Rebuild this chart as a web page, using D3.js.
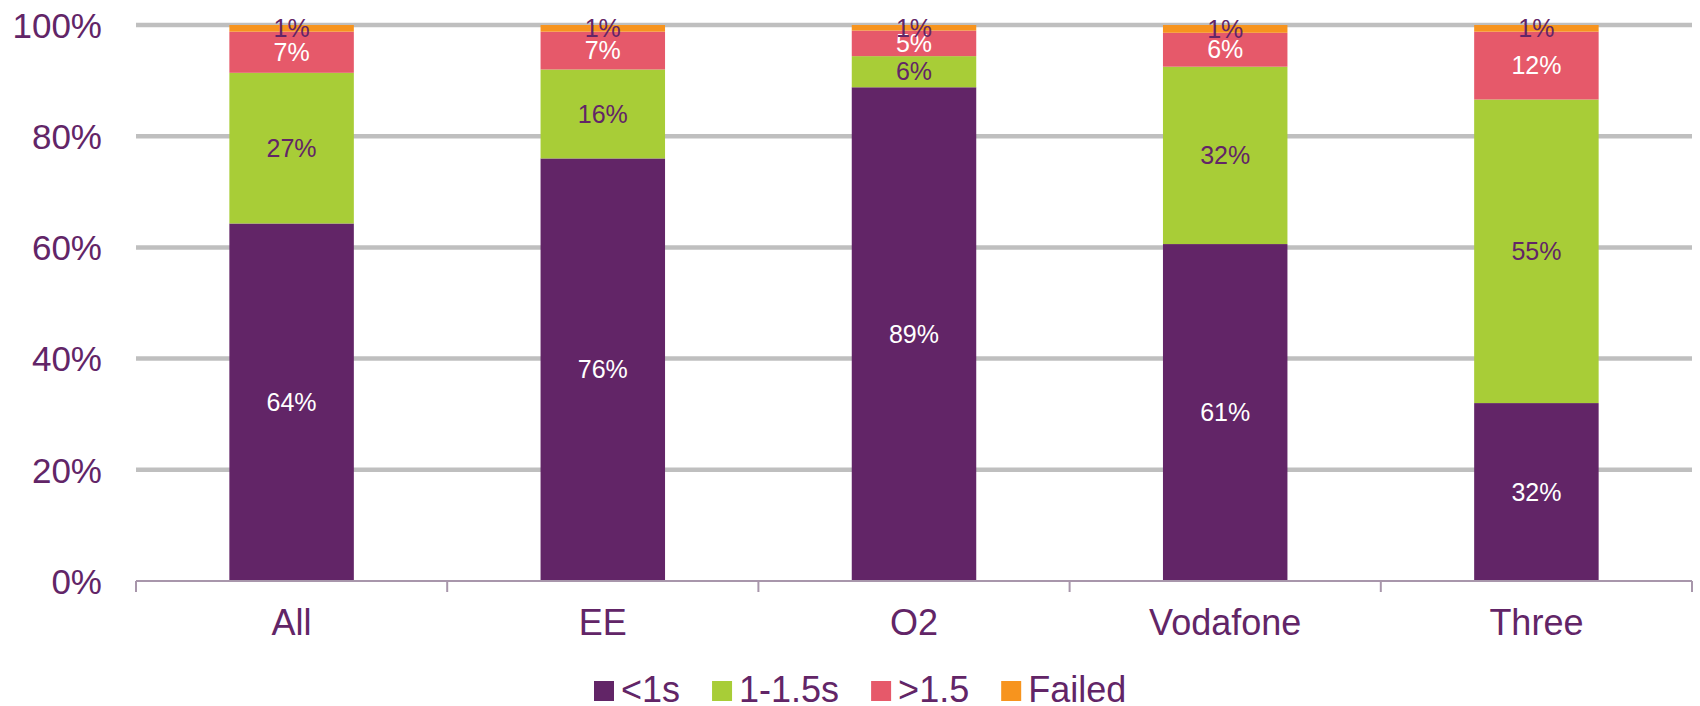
<!DOCTYPE html>
<html>
<head>
<meta charset="utf-8">
<script src="https://cdn.jsdelivr.net/npm/d3@7"></script>
<style>
  body { margin: 0; background: #fff; }
  svg text { font-family: "Liberation Sans", Arial, sans-serif; }
</style>
</head>
<body>
<div id="container"></div>
<script>
// data
const operators = ["All", "EE", "O2", "Vodafone", "Three"];
const bands = ["<1s", "1-1.5s", ">1.5", "Failed"];
const under1s = [64.3, 76.0, 88.8, 60.6, 32.0];
const oneTo15s = [27.1, 16.0, 5.6, 31.9, 54.6];
const over15 = [7.4, 6.8, 4.6, 6.1, 12.2];
const failed = [1.2, 1.2, 1.0, 1.4, 1.2];
const yTicks = [0, 20, 40, 60, 80, 100];

const colors = ["#622567", "#a8cd37", "#e6596a", "#f7941e"];
const labelColors = ["#ffffff", "#622567", "#ffffff", "#622567"];
const purple = "#622567";

const w = 1700, h = 706;
const m = { top: 25, right: 8, bottom: 125, left: 136 };

// rows for the stack
const rows = operators.map((op, i) => ({
  op: op,
  "<1s": under1s[i],
  "1-1.5s": oneTo15s[i],
  ">1.5": over15[i],
  "Failed": failed[i]
}));
const series = d3.stack().keys(bands)(rows);

const svg = d3.select("#container")
  .append("svg")
  .attr("width", w)
  .attr("height", h);

const x = d3.scaleBand()
  .domain(operators)
  .range([m.left, w - m.right])
  .paddingInner(0.6)
  .paddingOuter(0.3);

const y = d3.scaleLinear()
  .domain([0, 100])
  .range([h - m.bottom, m.top]);

// gridlines
svg.append("g")
  .selectAll("line")
  .data(yTicks.filter(d => d > 0))
  .enter()
  .append("line")
  .attr("x1", m.left)
  .attr("x2", w - m.right)
  .attr("y1", d => y(d))
  .attr("y2", d => y(d))
  .attr("stroke", "#bfbfbf")
  .attr("stroke-width", 4.5);

// y axis labels
const yAxis = svg.append("g")
  .attr("transform", `translate(${m.left},0)`)
  .call(d3.axisLeft(y).tickValues(yTicks).tickSize(0).tickPadding(34).tickFormat(d => d + "%"));
yAxis.select(".domain").remove();
yAxis.selectAll("text")
  .attr("fill", purple)
  .style("font-size", "35px")
  .attr("dy", "0.35em");

// bars
svg.append("g")
  .selectAll("g")
  .data(series)
  .enter()
  .append("g")
  .attr("fill", (d, i) => colors[i])
  .selectAll("rect")
  .data(d => d)
  .enter()
  .append("rect")
  .attr("x", d => x(d.data.op))
  .attr("y", d => y(d[1]))
  .attr("width", x.bandwidth())
  .attr("height", d => y(d[0]) - y(d[1]));

// value labels
series.forEach((s, si) => {
  svg.append("g")
    .selectAll("text")
    .data(s)
    .enter()
    .append("text")
    .attr("x", d => x(d.data.op) + x.bandwidth() / 2)
    .attr("y", d => (y(d[0]) + y(d[1])) / 2)
    .attr("dy", "0.35em")
    .attr("text-anchor", "middle")
    .attr("fill", labelColors[si])
    .style("font-size", "25px")
    .text(d => Math.round(d[1] - d[0]) + "%");
});

// x axis line and boundary ticks
const axisY = y(0);
const step = x.step();
const bounds = operators.map(op => x(op) - step * x.paddingInner() / 2 - step * 0.0);
const edges = [m.left].concat(operators.map(op => x(op) + x.bandwidth() + (step - x.bandwidth()) / 2));
svg.append("line")
  .attr("x1", m.left)
  .attr("x2", w - m.right)
  .attr("y1", axisY)
  .attr("y2", axisY)
  .attr("stroke", "#a896ab")
  .attr("stroke-width", 2);
svg.append("g")
  .selectAll("line")
  .data(edges)
  .enter()
  .append("line")
  .attr("x1", d => d)
  .attr("x2", d => d)
  .attr("y1", axisY)
  .attr("y2", axisY + 11)
  .attr("stroke", "#a896ab")
  .attr("stroke-width", 2);

// category labels
const xAxis = svg.append("g")
  .attr("transform", `translate(0,${axisY})`)
  .call(d3.axisBottom(x).tickSize(0).tickPadding(28));
xAxis.select(".domain").remove();
xAxis.selectAll("text")
  .attr("fill", purple)
  .style("font-size", "36px");

// legend
const legend = svg.append("g").attr("id", "legend");
let lx = 594;
bands.forEach((b, i) => {
  legend.append("rect")
    .attr("x", lx)
    .attr("y", 681)
    .attr("width", 20)
    .attr("height", 20)
    .attr("fill", colors[i]);
  const t = legend.append("text")
    .attr("x", lx + 27)
    .attr("y", 702)
    .attr("fill", purple)
    .style("font-size", "36px")
    .text(b);
  lx += 27 + t.node().getComputedTextLength() + 32;
});
</script>
</body>
</html>
